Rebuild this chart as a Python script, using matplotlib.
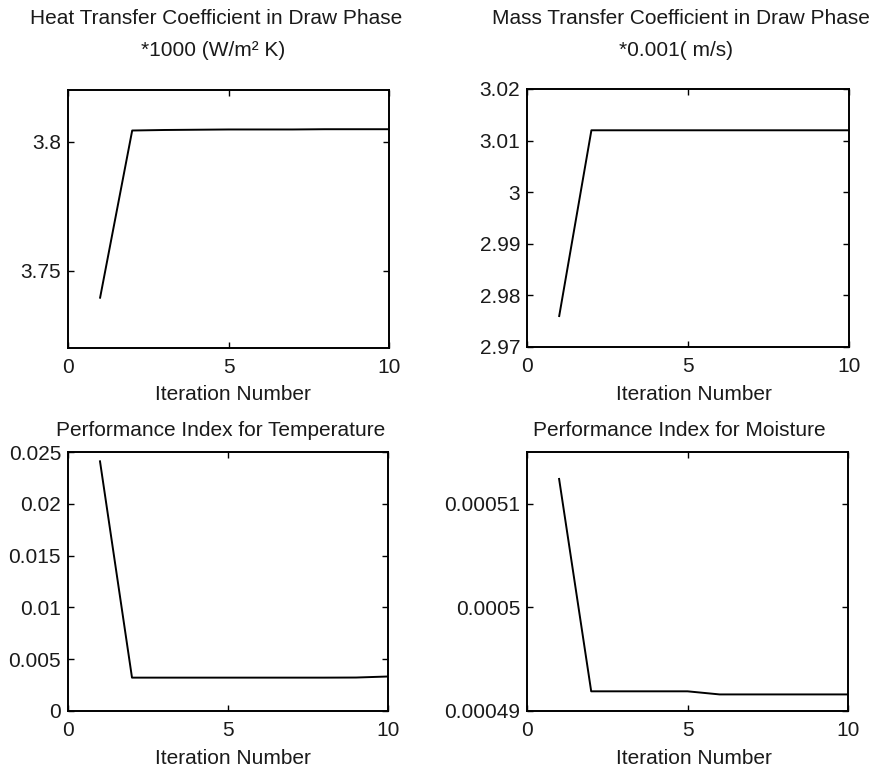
import matplotlib
matplotlib.use("Agg")
import matplotlib.pyplot as plt

plt.rcParams['font.family'] = ['Liberation Sans', 'DejaVu Sans']

iterations = [1, 2, 3, 4, 5, 6, 7, 8, 9, 10]
heat_coef = [3.7395, 3.8043, 3.8045, 3.8046, 3.8047, 3.8047, 3.8047, 3.8048, 3.8048, 3.8048]
mass_coef = [2.976, 3.012, 3.012, 3.012, 3.012, 3.012, 3.012, 3.012, 3.012, 3.012]
perf_temp = [0.0241, 0.00322, 0.00322, 0.00322, 0.00322, 0.00322, 0.00322, 0.00322, 0.00323, 0.00333]
perf_moist = [0.0005124, 0.0004919, 0.0004919, 0.0004919, 0.0004919, 0.0004916, 0.0004916, 0.0004916, 0.0004916, 0.0004916]

x_ticks = [0, 5, 10]
x_ticklabels = ["0", "5", "10"]
heat_yticks = [3.75, 3.8]
heat_ylabels = ["3.75", "3.8"]
mass_yticks = [2.97, 2.98, 2.99, 3.0, 3.01, 3.02]
mass_ylabels = ["2.97", "2.98", "2.99", "3", "3.01", "3.02"]
temp_yticks = [0, 0.005, 0.01, 0.015, 0.02, 0.025]
temp_ylabels = ["0", "0.005", "0.01", "0.015", "0.02", "0.025"]
moist_yticks = [0.00049, 0.0005, 0.00051]
moist_ylabels = ["0.00049", "0.0005", "0.00051"]

W, H = 877, 775
fig = plt.figure(figsize=(W / 100, H / 100), dpi=100)
TXT = '#1a1a1a'
FS = 15

def ax_px(l, t, r, b):
    return fig.add_axes([l / W, 1 - b / H, (r - l) / W, (b - t) / H])

def style(ax, y, yticks, ylabels, ylim):
    ax.plot(iterations, y, color='black', lw=1.4)
    ax.set_xlim(0, 10)
    ax.set_ylim(*ylim)
    ax.set_xticks(x_ticks)
    ax.set_xticklabels(x_ticklabels)
    ax.set_yticks(yticks)
    ax.set_yticklabels(ylabels)
    ax.tick_params(direction='in', top=True, right=True, length=4, width=1,
                   labelsize=FS, color='black', labelcolor=TXT)
    ax.tick_params(axis='x', pad=7)
    ax.tick_params(axis='y', pad=5)
    for s in ax.spines.values():
        s.set_linewidth(1.4)
        s.set_color('black')

ax1 = ax_px(68, 90, 389, 348)
style(ax1, heat_coef, heat_yticks, heat_ylabels, (3.72, 3.82))
ax2 = ax_px(527, 89, 849, 347)
style(ax2, mass_coef, mass_yticks, mass_ylabels, (2.97, 3.02))
ax3 = ax_px(68, 452, 388, 711)
style(ax3, perf_temp, temp_yticks, temp_ylabels, (0, 0.025))
ax4 = ax_px(527, 452, 848, 711)
style(ax4, perf_moist, moist_yticks, moist_ylabels, (0.00049, 0.000515))

def ftext(x, y, s, size=FS):
    fig.text(x / W, 1 - y / H, s, ha='center', va='center', fontsize=size, color=TXT)

ftext(216, 18, "Heat Transfer Coefficient in Draw Phase")
ftext(213, 50, "*1000 (W/m² K)")
ftext(681, 19, "Mass Transfer Coefficient in Draw Phase")
ftext(676, 50, "*0.001( m/s)")
ftext(221, 431, "Performance Index for Temperature")
ftext(679, 431, "Performance Index for Moisture")
ftext(233, 395, "Iteration Number")
ftext(694, 395, "Iteration Number")
ftext(233, 758, "Iteration Number")
ftext(694, 758, "Iteration Number")

fig.savefig("out.png", dpi=100)
